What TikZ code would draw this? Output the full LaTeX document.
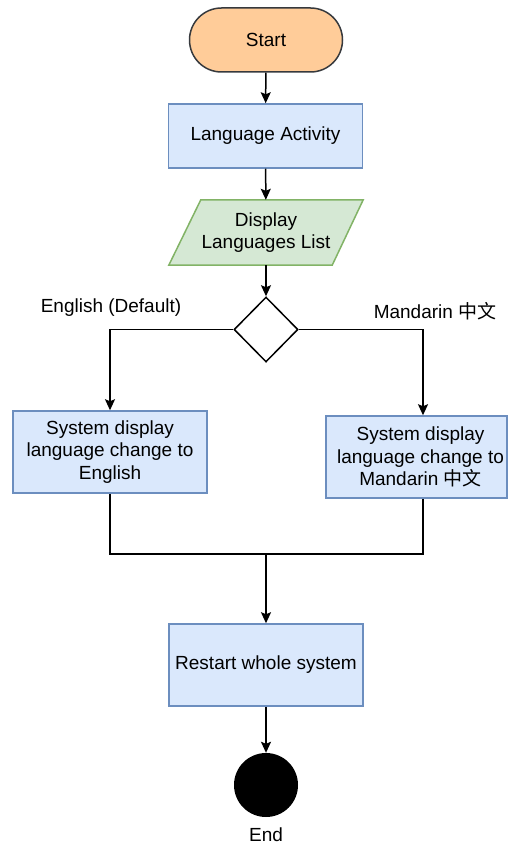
\documentclass[tikz,border=0pt]{standalone}
\usepackage{fontspec}
\setmainfont{Liberation Sans}
\newfontfamily\cjk{Noto Sans CJK SC}
\usetikzlibrary{shapes.geometric,arrows.meta,calc}
\definecolor{termfill}{HTML}{FFCC99}
\definecolor{termline}{HTML}{36393D}
\definecolor{procfill}{HTML}{DAE8FC}
\definecolor{procline}{HTML}{6C8EBF}
\definecolor{iofill}{HTML}{D5E8D4}
\definecolor{ioline}{HTML}{82B366}
\begin{document}
\begin{tikzpicture}[x=1pt,y=-1pt,
  every node/.style={font=\fontsize{19}{22.5}\selectfont, align=center, inner sep=0pt},
  terminal/.style={draw=termline, fill=termfill, line width=1.5pt, rounded corners=32pt,
    minimum width=153pt, minimum height=64pt},
  process/.style={draw=procline, fill=procfill, line width=1.5pt,
    minimum width=194pt},
  decision/.style={diamond, draw=black, line width=1.5pt, fill=white,
    minimum width=64pt, minimum height=65pt},
  endpoint/.style={circle, fill=black, minimum size=64pt},
  flow/.style={line width=1.5pt, -{Stealth[length=11pt,width=10pt,inset=2pt]}},
  link/.style={line width=1.5pt}]
  \useasboundingbox (0,0) rectangle (508,850);

  \node[terminal] (start) at (266,40) {Start};
  \node[process, minimum height=64pt] (act) at (265.5,136) {Language Activity};
  \node[minimum width=194pt, minimum height=65pt] (disp) at (266,232.5) {};
  \filldraw[draw=ioline, fill=iofill, line width=1.5pt]
    ($(disp.north west)+(32,0)$) -- (disp.north east)
    -- ($(disp.south east)+(-31,0)$) -- (disp.south west) -- cycle;
  \node at (disp.center) {Display\\Languages List};
  \node[decision] (dec) at (266,329.5) {};

  \node[process, minimum height=82pt] (eng) at (110,452)
    {System display\\language change to\\English};
  \node[process, minimum width=181pt, minimum height=82pt] (man) at (416.5,457)
    {\hspace*{8pt}System display\\\hspace*{8pt}language change to\\\hspace*{8pt}Mandarin {\cjk 中文}};

  \node (englab) at (111,308) {English (Default)};
  \node (manlab) at (435,311) {Mandarin {\cjk 中文}};

  \coordinate (join) at (266,554);
  \node[process, minimum height=82pt] (rst) at (266,665) {Restart whole system};
  \node[endpoint] (endc) at (266,785) {};
  \node (endlab) at (266,835) {End};

  \draw[flow] (start) -- (act);
  \draw[flow] (act) -- (disp);
  \draw[flow] (disp) -- (dec);
  \draw[flow] (dec.west) -| (eng.north);
  \draw[flow] (dec.east) -| ([xshift=6.5pt]man.north);
  \draw[link] (eng.south) |- (join);
  \draw[link] ([xshift=6.5pt]man.south) |- (join);
  \draw[flow] (join) -- (rst);
  \draw[flow] (rst) -- (endc);
\end{tikzpicture}
\end{document}
